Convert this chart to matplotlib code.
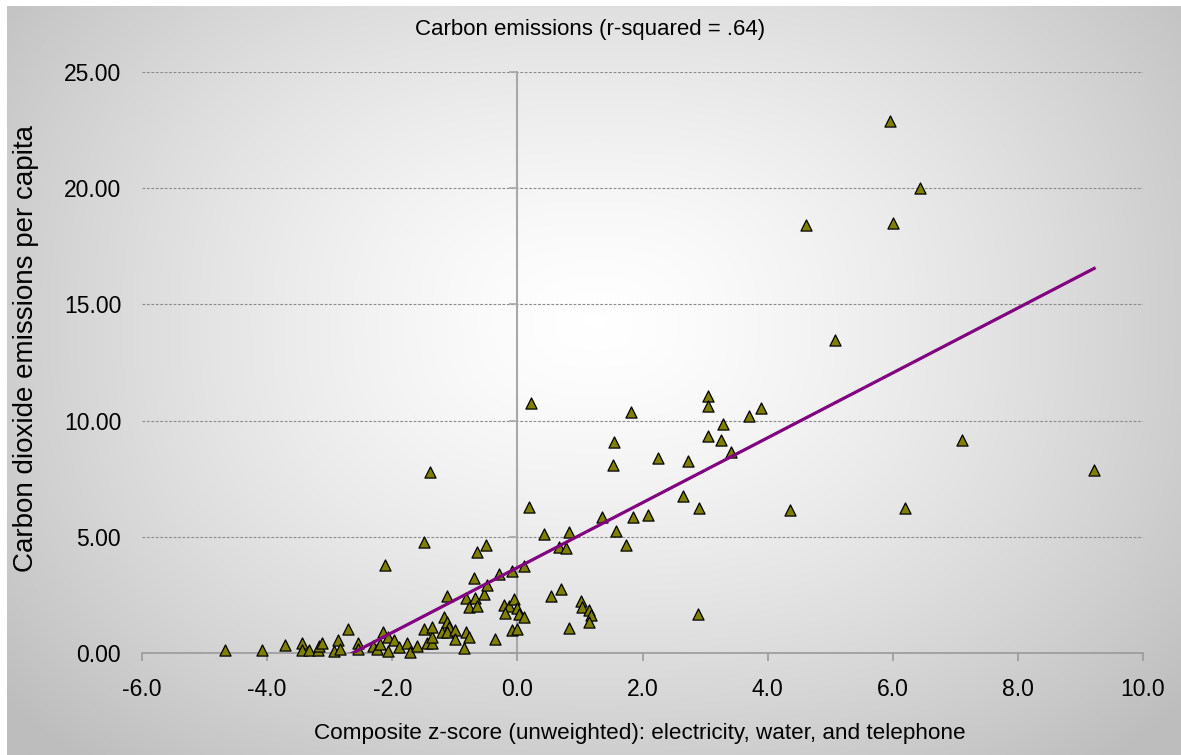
import numpy as np
import matplotlib
matplotlib.use("Agg")
import matplotlib.pyplot as plt
from matplotlib.colors import LinearSegmentedColormap

plt.rcParams['font.family'] = ['Liberation Sans', 'DejaVu Sans']

# Composite infrastructure z-score vs. CO2 emissions per capita
z_score = [
    -4.68, -4.08, -3.71, -3.44, -3.44, -3.33, -3.18, -3.17, -3.12, -2.93,
    -2.86, -2.83, -2.70, -2.54, -2.54, -2.30, -2.24, -2.19, -2.14, -2.06,
    -2.06, -1.98, -1.90, -1.76, -1.71, -1.61, -1.50, -1.44, -1.36, -1.37,
    -1.36, -1.18, -1.12, -1.10, -1.20, -1.12, -0.99, -0.99, -0.86, -0.82,
    -0.78, -1.12, -0.82, -0.67, -0.78, -0.64, -0.70, -0.53, -0.48, -0.35,
    -0.29, -0.22, -0.13, -0.19, -0.08, -0.05, 0.00, 0.03, 0.10, -0.08,
    0.00, 0.10, -0.64, -0.50, -1.50, -2.11, -1.39, 0.19, 0.22, 0.43,
    0.82, 0.67, 0.78, 0.54, 0.70, 1.02, 1.04, 1.15, 1.17, 1.14,
    0.83, 1.36, 1.58, 1.74, 1.85, 2.09, 1.53, 1.55, 1.81, 2.25,
    2.72, 2.65, 2.91, 2.89, 3.05, 3.05, 3.04, 3.25, 3.28, 3.41,
    3.71, 3.90, 4.36, 4.62, 5.07, 5.96, 6.01, 6.19, 6.44, 7.11,
    9.22,
]
co2_per_capita = [
    0.13, 0.13, 0.34, 0.43, 0.13, 0.13, 0.13, 0.30, 0.43, 0.09,
    0.56, 0.17, 1.03, 0.43, 0.17, 0.30, 0.17, 0.39, 0.90, 0.69,
    0.09, 0.56, 0.26, 0.43, 0.04, 0.30, 1.03, 0.43, 0.43, 0.69,
    1.12, 1.55, 1.33, 1.12, 0.90, 0.90, 0.99, 0.60, 0.22, 0.90,
    0.69, 2.45, 2.37, 2.37, 1.98, 2.02, 3.23, 2.54, 2.93, 0.60,
    3.40, 2.07, 2.02, 1.72, 3.53, 2.32, 1.94, 1.68, 1.55, 0.99,
    1.03, 3.74, 4.35, 4.65, 4.78, 3.79, 7.79, 6.28, 10.76, 5.12,
    5.21, 4.56, 4.52, 2.45, 2.75, 2.24, 1.98, 1.85, 1.64, 1.33,
    1.08, 5.85, 5.25, 4.65, 5.85, 5.94, 8.09, 9.08, 10.37, 8.39,
    8.26, 6.76, 6.24, 1.68, 11.06, 10.63, 9.34, 9.17, 9.85, 8.65,
    10.20, 10.54, 6.15, 18.42, 13.47, 22.89, 18.50, 6.24, 20.01, 9.17,
    7.87,
]

x_ticks = [-6.0, -4.0, -2.0, 0.0, 2.0, 4.0, 6.0, 8.0, 10.0]
y_ticks = [0, 5, 10, 15, 20, 25]

x = np.array(z_score)
y = np.array(co2_per_capita)

W, H = 1181, 755
fig = plt.figure(figsize=(W / 100, H / 100), dpi=100, facecolor='white')

# Chart-area fill: light centre fading to grey at the edges
bg = fig.add_axes([7 / W, 0, 1 - 7 / W, 1 - 6 / H], zorder=-10)
gh, gw = 300, 470
yy, xx = np.mgrid[0:gh, 0:gw]
cx, cy = 0.50 * gw, 0.42 * gh
rx, ry = 0.62 * gw, 0.72 * gh
p = 2.6
d = (np.abs((xx - cx) / rx) ** p + np.abs((yy - cy) / ry) ** p) ** (1 / p)
t = np.clip(d, 0, 1) ** 1.4
cmap = LinearSegmentedColormap.from_list('fill', ['#ffffff', '#bdbdbd'])
bg.imshow(t, cmap=cmap, vmin=0, vmax=1, aspect='auto', interpolation='bicubic')
bg.set_axis_off()

ax = fig.add_axes([142 / W, (H - 653) / H, (1143 - 142) / W, (653 - 72) / H])
ax.set_facecolor('none')
ax.set_xlim(-6, 10)
ax.set_ylim(0, 25)

# Dashed horizontal gridlines
ax.set_yticks(y_ticks)
ax.yaxis.grid(True, linestyle=(0, (2.5, 1.5)), color='#8c8c8c', linewidth=0.8)
ax.set_axisbelow(True)

for side in ['top', 'right']:
    ax.spines[side].set_visible(False)
ax.spines['bottom'].set_color('#9a9a9a')
ax.spines['bottom'].set_linewidth(1.2)
ax.spines['left'].set_position(('data', 0))
ax.spines['left'].set_color('#a8a8a8')
ax.spines['left'].set_linewidth(1.5)

ax.set_xticks(x_ticks)
ax.set_xticklabels([f"{v:.1f}" for v in x_ticks])
ax.tick_params(axis='x', direction='out', length=6, width=1.2, color='#9a9a9a',
               labelsize=16.5, pad=12)
ax.tick_params(axis='y', direction='out', length=6, width=1.2, color='#a8a8a8',
               labelleft=False)

# Value labels at the left edge of the plot
sec = ax.secondary_yaxis(0.0)
sec.spines['left'].set_visible(False)
sec.set_yticks(y_ticks)
sec.set_yticklabels([f"{v:.2f}" for v in y_ticks])
sec.tick_params(axis='y', length=0, labelsize=16.5, pad=15)

ax.scatter(x, y, marker='^', s=64, facecolor='#7f7f00', edgecolor='black',
           linewidth=0.9, zorder=3, clip_on=False)

# Linear trend line over the observed range
slope, intercept = np.polyfit(x, y, 1)
xs = np.array([x.min(), x.max()])
ax.plot(xs, slope * xs + intercept, color='#800080', linewidth=2.3, zorder=4)

fig.text(590 / W, 1 - 30 / H, 'Carbon emissions (r-squared = .64)',
         ha='center', va='center', fontsize=16)
fig.text(640 / W, 1 - 733 / H,
         'Composite z-score (unweighted): electricity, water, and telephone',
         ha='center', va='center', fontsize=16.2)
fig.text(26 / W, 1 - 349 / H, 'Carbon dioxide emissions per capita',
         ha='center', va='center', rotation=90, fontsize=20)

fig.savefig('out.png', dpi=100, facecolor='white')
